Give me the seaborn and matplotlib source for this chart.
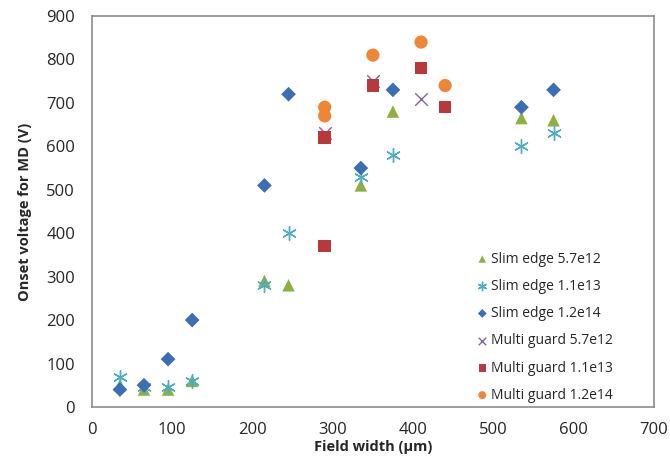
import pandas as pd
import seaborn as sns
from matplotlib import pyplot as plt

# field width (um) for the slim edge samples
slim_x = [35, 65, 95, 125, 215, 245, 335, 375, 535, 575]
slim_57e12 = [50, 40, 40, 60, 290, 280, 510, 680, 665, 660]
slim_11e13_x = [35, 65, 95, 125, 215, 245, 335, 375, 535, 575]
slim_11e13 = [70, 45, 45, 60, 280, 400, 530, 580, 600, 630]
slim_12e14 = [40, 50, 110, 200, 510, 720, 550, 730, 690, 730]

# multi guard samples
multi_57e12_x = [290, 350, 410]
multi_57e12 = [630, 750, 710]
multi_11e13_x = [290, 290, 350, 410, 440]
multi_11e13 = [620, 370, 740, 780, 690]
multi_12e14_x = [290, 290, 350, 410, 440]
multi_12e14 = [690, 670, 810, 840, 740]

series = [
    ('Slim edge 5.7e12', slim_x, slim_57e12, '^', '#8DB040', 9),
    ('Slim edge 1.1e13', slim_11e13_x, slim_11e13, (6, 2, 0), '#4BACC6', 10),
    ('Slim edge 1.2e14', slim_x, slim_12e14, 'D', '#3C6EB4', 7.5),
    ('Multi guard 5.7e12', multi_57e12_x, multi_57e12, 'x', '#8064A2', 9),
    ('Multi guard 1.1e13', multi_11e13_x, multi_11e13, 's', '#B8383B', 9),
    ('Multi guard 1.2e14', multi_12e14_x, multi_12e14, 'o', '#EE8635', 9.5),
]

sns.set_style('white')
plt.rcParams['font.family'] = ['Open Sans', 'DejaVu Sans']

fig = plt.figure(figsize=(6.7, 4.71), dpi=100)
ax = fig.add_axes([0.137, 0.136, 0.839, 0.830])

for name, xs, ys, mk, col, sz in series:
    df = pd.DataFrame({'x': xs, 'y': ys})
    if mk == 'x' or isinstance(mk, tuple):
        sns.scatterplot(data=df, x='x', y='y', ax=ax, marker=mk, color=col,
                        s=sz ** 2, linewidth=1.0, label=name)
    else:
        sns.scatterplot(data=df, x='x', y='y', ax=ax, marker=mk, color=col,
                        s=sz ** 2, edgecolor='none', label=name)

ax.set_xlim(0, 700)
ax.set_ylim(0, 900)
ax.set_xticks(range(0, 701, 100))
ax.set_yticks(range(0, 901, 100))
ax.tick_params(axis='x', direction='in', length=4, color='#888888', labelsize=12, pad=11)
ax.tick_params(axis='y', length=0, labelsize=12, pad=12)
for sp in ax.spines.values():
    sp.set_color('#8c8c8c')
    sp.set_linewidth(1.2)

ax.set_xlabel('Field width (µm)', fontsize=10.5, fontweight='bold', labelpad=1)
ax.set_ylabel('Onset voltage for MD (V)', fontsize=10.5, fontweight='bold', labelpad=10)

leg = ax.legend(loc='upper left', bbox_to_anchor=(0.67, 0.415), frameon=False,
                fontsize=10, handletextpad=0.1, labelspacing=0.88,
                markerscale=0.6, borderpad=0, handlelength=1.0)

plt.savefig('out.png', dpi=100)
